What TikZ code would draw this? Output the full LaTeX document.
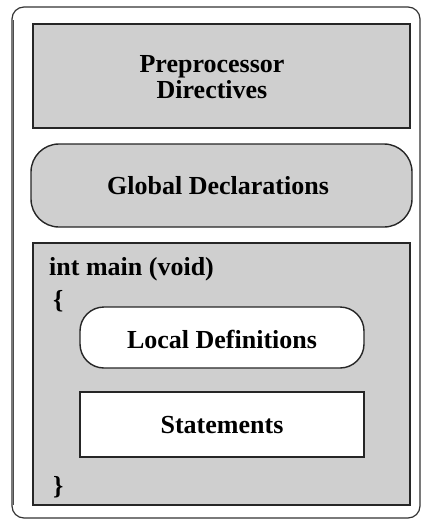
\documentclass[tikz,border=0pt]{standalone}
\usepackage{fontspec}
\setmainfont{Liberation Serif}
\begin{document}
\begin{tikzpicture}[x=1pt,y=-1pt,
  frame/.style={draw=black!85, line width=1.4pt, fill=gray!38},
  whitebox/.style={draw=black!85, line width=1.4pt, fill=white},
  lbl/.style={font=\fontsize{26}{26}\selectfont\bfseries, text=black, inner sep=0pt, align=center},
  code/.style={font=\fontsize{26}{26}\selectfont\bfseries, text=black, inner sep=0pt, anchor=base west}]
\useasboundingbox (0,0) rectangle (422,525);
% outer frame
\draw[draw=black!80, line width=1.2pt, rounded corners=12pt] (12,7) rectangle (420,518);
\draw[draw=black!70, line width=1.6pt] (13.5,20) -- (13.5,505);
% preprocessor
\node[frame, minimum width=377pt, minimum height=104pt, inner sep=0pt] (pre) at (221.5,76) {};
\node[lbl] (pretext) at (212,77) {Preprocessor\\Directives};
% global declarations
\node[frame, rounded corners=28pt, minimum width=381pt, minimum height=83pt, inner sep=0pt] (glob) at (221.5,185.5) {};
\node[lbl] (globtext) at (218,186) {Global Declarations};
% main
\node[frame, minimum width=377pt, minimum height=262pt, inner sep=0pt] (mainbox) at (221.5,374) {};
\node[code] (intmain) at (49,275) {int main (void)};
\node[code] (lbrace) at (53,308) {\{};
\node[whitebox, rounded corners=24pt, minimum width=284pt, minimum height=61pt, inner sep=0pt] (local) at (222,337.5) {};
\node[lbl] (localtext) at (222,339) {Local Definitions};
\node[whitebox, minimum width=284pt, minimum height=65pt, inner sep=0pt] (stmt) at (222,424.5) {};
\node[lbl] (stmttext) at (222,425) {Statements};
\node[code] (rbrace) at (53,494) {\}};
\end{tikzpicture}
\end{document}
